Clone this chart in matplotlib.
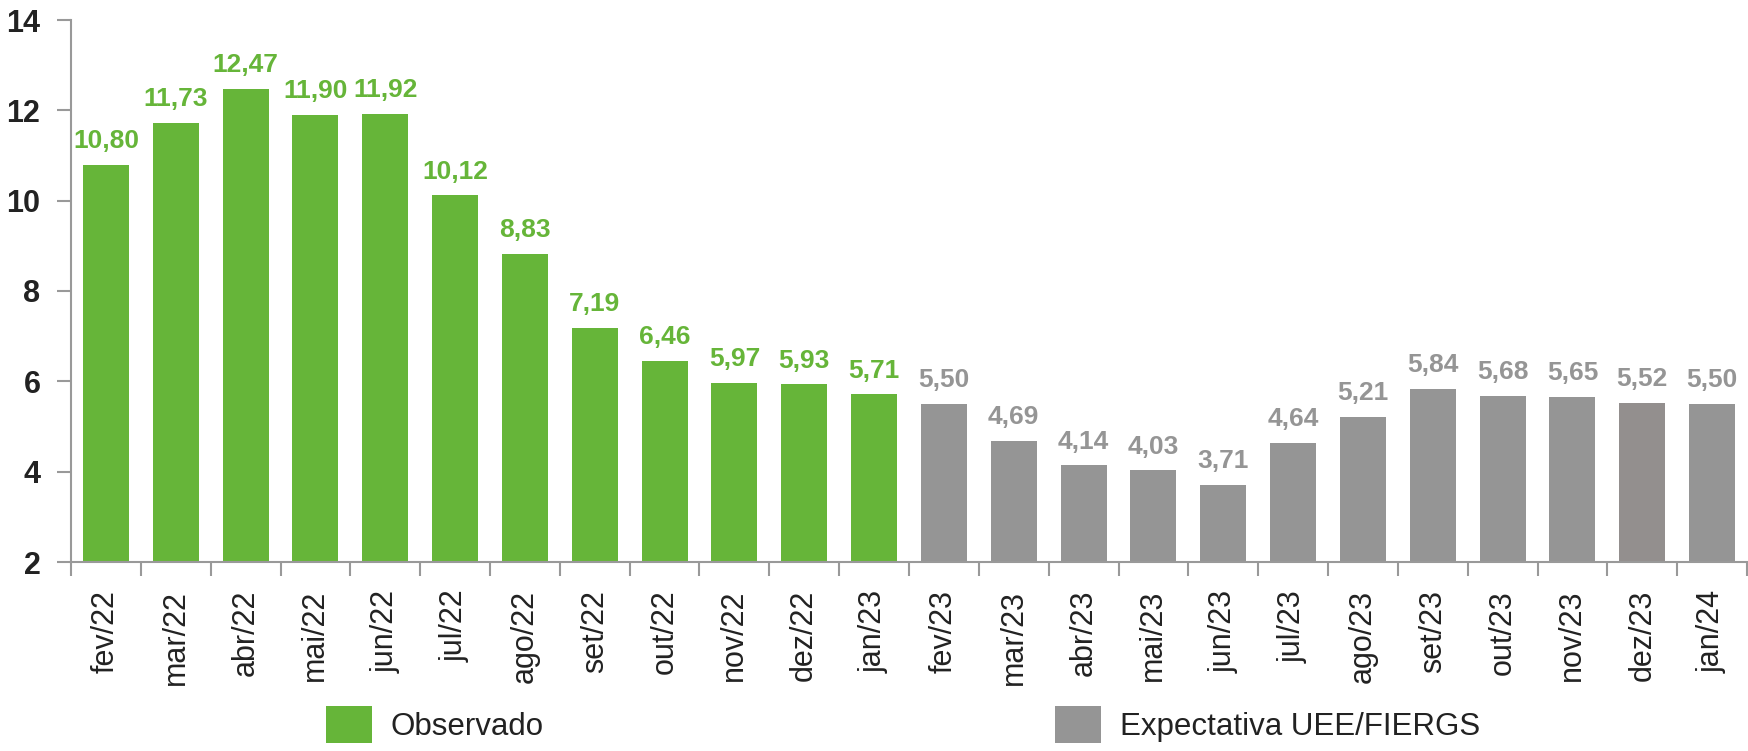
import matplotlib
matplotlib.use("Agg")
import matplotlib.pyplot as plt
from matplotlib.patches import Patch
import numpy as np

meses = ["fev/22", "mar/22", "abr/22", "mai/22", "jun/22", "jul/22", "ago/22",
         "set/22", "out/22", "nov/22", "dez/22", "jan/23", "fev/23", "mar/23",
         "abr/23", "mai/23", "jun/23", "jul/23", "ago/23", "set/23", "out/23",
         "nov/23", "dez/23", "jan/24"]
observado = [10.80, 11.73, 12.47, 11.90, 11.92, 10.12, 8.83, 7.19, 6.46, 5.97,
             5.93, 5.71]
expectativa = [5.50, 4.69, 4.14, 4.03, 3.71, 4.64, 5.21, 5.84, 5.68, 5.65,
               5.52, 5.50]

verde = "#66B539"
cinza = "#959595"

plt.rcParams["font.family"] = ["Liberation Sans", "DejaVu Sans"]

W, H = 1749, 751
fig = plt.figure(figsize=(W / 100, H / 100), dpi=100)
ax = fig.add_axes([71 / W, 1 - 562 / H, (1747 - 71) / W, (562 - 20) / H])

valores = observado + expectativa
x = np.arange(len(valores))
cores = [verde] * len(observado) + [cinza] * len(expectativa)
cores[22] = "#938F8E"
ax.bar(x, valores, width=0.66, color=cores)

for i, v in enumerate(valores):
    cor = verde if i < len(observado) else cinza
    ax.annotate(("%.2f" % v).replace(".", ","), (i, v), xytext=(0, 12),
                textcoords="offset points", ha="center", va="baseline",
                fontsize=19, fontweight="bold", color=cor)

ax.set_xlim(-0.5, len(valores) - 0.5)
ax.set_ylim(2, 14)
ax.set_yticks(range(2, 15, 2))
ax.set_yticklabels([str(t) for t in range(2, 15, 2)], fontsize=22,
                   fontweight="bold", color="#222222")
ax.set_xticks(x)
ax.set_xticklabels(meses, rotation=90, fontsize=22, color="#222222")
ax.set_xticks(np.arange(-0.5, len(valores), 1), minor=True)
ax.tick_params(axis="x", which="major", length=0, pad=20)
ax.tick_params(axis="x", which="minor", length=10, width=1.5, color="#999999")
ax.tick_params(axis="y", length=10, width=1.5, color="#999999", pad=12)

for s in ["top", "right"]:
    ax.spines[s].set_visible(False)
for s in ["left", "bottom"]:
    ax.spines[s].set_color("#999999")
    ax.spines[s].set_linewidth(1.5)

h1 = Patch(facecolor=verde, label="Observado")
h2 = Patch(facecolor=cinza, label="Expectativa UEE/FIERGS")
for h, x0 in [(h1, 326), (h2, 1055)]:
    leg = fig.legend(handles=[h], loc="upper left",
                     bbox_to_anchor=(x0 / W, 1 - 706 / H), frameon=False,
                     fontsize=22.5, handlelength=1.47, handleheight=1.44,
                     handletextpad=0.6, borderpad=0, borderaxespad=0)
    for t in leg.get_texts():
        t.set_color("#222222")

fig.savefig("out.png", dpi=100)
